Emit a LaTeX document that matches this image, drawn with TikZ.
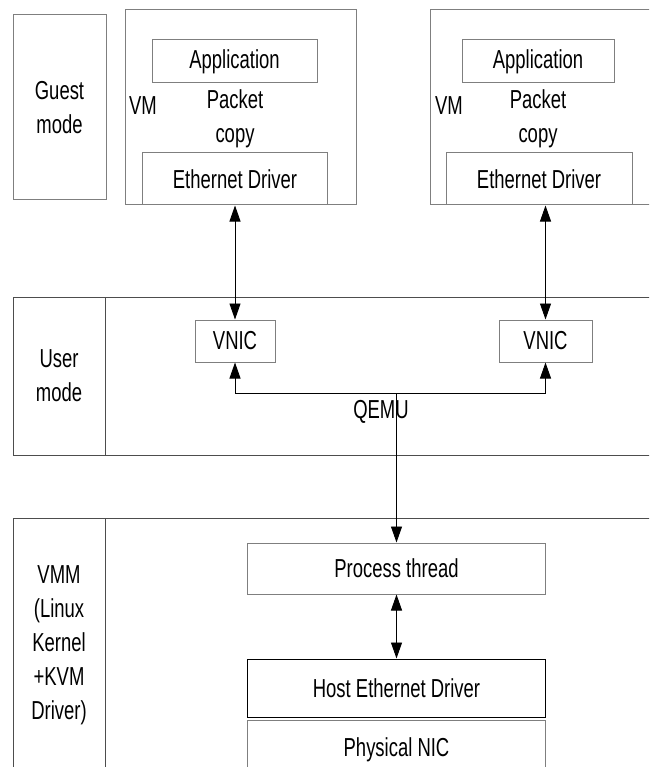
\documentclass[tikz,border=0pt]{standalone}
\usepackage{fontspec}
\setmainfont[FakeStretch=0.71]{Liberation Sans}
\usetikzlibrary{arrows.meta,positioning}
\definecolor{boxgray}{HTML}{7F7F7F}
\definecolor{bandgray}{HTML}{4D4D4D}

\begin{document}
\begin{tikzpicture}[
  x=1pt,y=-1pt,
  every node/.style={font=\fontsize{26}{34}\selectfont},
  box/.style={
    rectangle,
    draw=boxgray,
    line width=1pt,
    inner sep=0pt,
    align=center
  },
  modetext/.style={align=center,inner sep=0pt},
  band/.style={draw=bandgray,line width=1pt},
  arrow/.style={{Triangle[length=16pt,width=11pt]}-{Triangle[length=16pt,width=11pt]},line width=0.9pt,draw=black},
  onearrow/.style={-{Triangle[length=16pt,width=11pt]},line width=0.9pt,draw=black}
]
\useasboundingbox (0,0) rectangle (649,767);
\clip (0,0) rectangle (649,767);
\node[box,minimum width=93pt,minimum height=185pt] (guest) at (59.5,107.5) {Guest\\mode};
\node[box,minimum width=231pt,minimum height=195pt] (vmA) at (240.5,107.5) {};
\node[box,minimum width=165pt,minimum height=43pt] (appA) at (234.5,61.5) {Application};
\node[modetext] (vmtagA) at (143,106) {VM};
\node[modetext] (copyA) at (235,119) {Packet\\copy};
\node[box,minimum width=185pt,minimum height=52pt] (ethA) at (235,179) {Ethernet Driver};
\node[box,minimum width=235pt,minimum height=195pt] (vmB) at (547.5,107.5) {};
\node[box,minimum width=152pt,minimum height=43pt] (appB) at (538,61.5) {Application};
\node[modetext] (vmtagB) at (449,106) {VM};
\node[modetext] (copyB) at (538,119) {Packet\\copy};
\node[box,minimum width=186pt,minimum height=52pt] (ethB) at (539,179) {Ethernet Driver};
\draw[band] (105,297) rectangle (665,455);
\node[box,draw=bandgray,minimum width=92pt,minimum height=158pt] (user) at (59,376) {User\\mode};
\node[box,minimum width=80pt,minimum height=42pt] (vnicA) at (235,341) {VNIC};
\node[box,minimum width=93pt,minimum height=42pt] (vnicB) at (545.5,341) {VNIC};
\coordinate (bus) at (396.5,393);
\node[modetext] (qemu) at (381,412) {QEMU};
\draw[band] (13,518) -- (665,518);
\draw[band] (13,518) -- (13,790);
\draw[band] (105,518) -- (105,790);
\node[modetext] (vmm) at (59,645) {VMM\\(Linux\\Kernel\\+KVM\\Driver)};
\node[box,minimum width=298pt,minimum height=51pt] (proc) at (396.5,568.5) {Process thread};
\node[box,draw=black,minimum width=298pt,minimum height=58pt] (host) at (396.5,688) {Host Ethernet Driver};
\node[box,minimum width=298pt,minimum height=60pt] (nic) at (396.5,750) {Physical NIC};
\draw[arrow] (ethA.south) -- (vnicA.north);
\draw[arrow] (vnicB.north |- ethB.south) -- (vnicB.north);
\draw[arrow] (vnicA.south) -- (vnicA.south |- bus) -- (vnicB.south |- bus) -- (vnicB.south);
\draw[onearrow] (bus) -- (proc.north);
\draw[arrow] (proc) -- (host);
\end{tikzpicture}
\end{document}
